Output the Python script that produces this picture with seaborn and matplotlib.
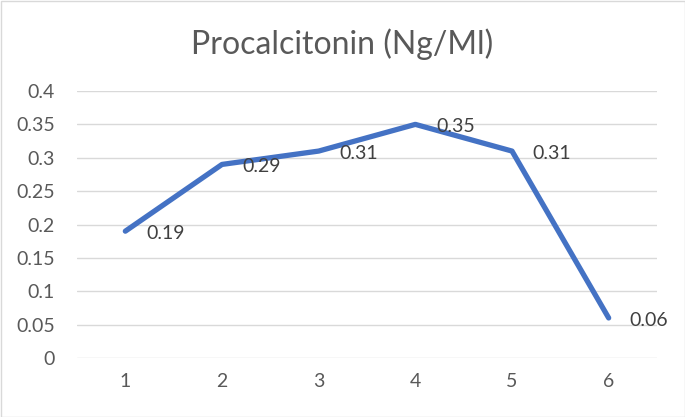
import matplotlib
matplotlib.use("Agg")
import matplotlib.pyplot as plt
import seaborn as sns
import pandas as pd
from matplotlib.patches import Rectangle

categories = [1, 2, 3, 4, 5, 6]
values = [0.19, 0.29, 0.31, 0.35, 0.31, 0.06]
y_ticks = [0, 0.05, 0.1, 0.15, 0.2, 0.25, 0.3, 0.35, 0.4]
y_tick_labels = ["0", "0.05", "0.1", "0.15", "0.2", "0.25", "0.3", "0.35", "0.4"]
title = "Procalcitonin (Ng/Ml)"

sns.set_theme(style="white")
plt.rcParams['font.family'] = ['Lato', 'DejaVu Sans']

df = pd.DataFrame({"x": categories, "y": values})

W, H = 685, 417
fig = plt.figure(figsize=(W/100, H/100), dpi=100)
ax = fig.add_axes([77/W, 1 - 358/H, (657-77)/W, (358-91)/H])

grey = "#595959"
ax.set_ylim(0, 0.4)
ax.set_xlim(0.5, 6.5)
for t in y_ticks:
    ax.axhline(t, color="#D9D9D9", lw=1.0, zorder=0)

sns.lineplot(data=df, x="x", y="y", ax=ax, color="#4472C4", lw=3.8,
             solid_capstyle="round", solid_joinstyle="round", zorder=3)

for xv, yv in zip(categories, values):
    ax.annotate(f"{yv:g}", (xv, yv), xytext=(15, -1.5), textcoords="offset points",
                ha="left", va="center", fontsize=14, color="#404040", zorder=4)

ax.set_yticks(y_ticks)
ax.set_yticklabels(y_tick_labels)
ax.set_xticks(categories)
ax.set_xticklabels([str(c) for c in categories])
ax.tick_params(axis="y", length=0, pad=16, labelsize=14, labelcolor=grey)
ax.tick_params(axis="x", length=0, pad=11, labelsize=14, labelcolor=grey)
ax.set_xlabel("")
ax.set_ylabel("")
for s in ax.spines.values():
    s.set_visible(False)

fig.text(0.5, 1 - 44/H, title, ha="center", va="center", fontsize=23, color=grey)

fig.patches.append(Rectangle((0.5/W, 0.5/H), (W-1)/W, (H-1)/H, transform=fig.transFigure,
                             fill=False, edgecolor="#D9D9D9", lw=1))

fig.savefig("out.png", dpi=100)
